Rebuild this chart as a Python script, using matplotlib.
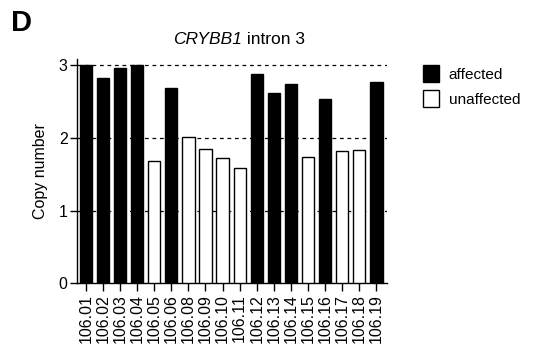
import numpy as np
import matplotlib
matplotlib.use("Agg")
import matplotlib.pyplot as plt
from matplotlib.patches import Patch

plt.rcParams['font.family'] = 'Liberation Sans'

# data
samples = ["106.01", "106.02", "106.03", "106.04", "106.05", "106.06",
           "106.08", "106.09", "106.10", "106.11", "106.12", "106.13",
           "106.14", "106.15", "106.16", "106.17", "106.18", "106.19"]
copy_number = [3.00, 2.83, 2.96, 3.00, 1.68, 2.68,
               2.01, 1.85, 1.72, 1.58, 2.88, 2.62,
               2.74, 1.74, 2.54, 1.82, 1.83, 2.77]
affected = [1, 1, 1, 1, 0, 1,
            0, 0, 0, 0, 1, 1,
            1, 0, 1, 0, 0, 1]

fig = plt.figure(figsize=(5.37, 3.49), dpi=100)
ax = fig.add_axes([0.144, 0.188, 0.576, 0.642])

x = np.arange(len(samples))
colors = ["black" if a else "white" for a in affected]
ax.bar(x, copy_number, width=0.72, color=colors, edgecolor="black",
       linewidth=1.0, zorder=3)

# dashed reference lines
for yv in [1, 2, 3]:
    ax.axhline(yv, color="black", lw=0.9, ls=(0, (3, 3)), zorder=1)

ax.set_xlim(-0.5, 17.6)
ax.set_ylim(0, 3.08)
ax.set_yticks([0, 1, 2, 3])
ax.set_xticks(x)
ax.set_xticklabels(samples, rotation=90, fontsize=11.5)
ax.tick_params(axis='y', labelsize=11.5, length=5, width=1, pad=2)
ax.tick_params(axis='x', length=6, width=1, pad=2)
for s in ["top", "right"]:
    ax.spines[s].set_visible(False)
for s in ["left", "bottom"]:
    ax.spines[s].set_linewidth(1.0)

ax.set_ylabel("Copy number", fontsize=11.5, labelpad=8)

# title: italic gene name + plain text, centred as a whole
fig.canvas.draw()
r = fig.canvas.get_renderer()
t1 = fig.text(0, 1 - 39/349, "CRYBB1", fontsize=12.5, style="italic",
              ha="left", va="center")
t2 = fig.text(0, 1 - 39/349, " intron 3", fontsize=12.5,
              ha="left", va="center")
w1 = t1.get_window_extent(r).width
w2 = t2.get_window_extent(r).width
x0 = 239 - (w1 + w2) / 2
t1.set_x(x0 / 537)
t2.set_x((x0 + w1) / 537)

fig.text(0.02, 1 - 31/349, "D", fontsize=21, fontweight="bold",
         ha="left", va="baseline")

handles = [Patch(facecolor="black", edgecolor="black", label="affected"),
           Patch(facecolor="white", edgecolor="black", label="unaffected")]
fig.legend(handles=handles, loc="upper left", bbox_to_anchor=(0.787, 0.814),
           frameon=False, fontsize=11, handlelength=1.1, handleheight=1.35,
           handletextpad=0.6, labelspacing=0.52, borderpad=0, borderaxespad=0)

fig.savefig("out.png", dpi=100)
